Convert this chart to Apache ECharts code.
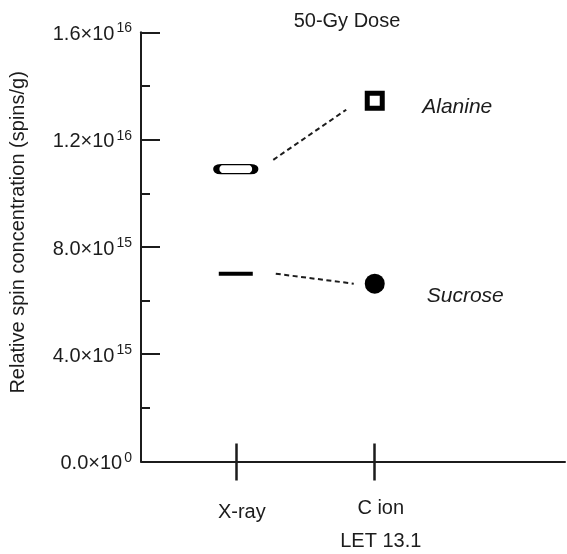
<!DOCTYPE html>
<html>
<head>
<meta charset="utf-8">
<script src="https://cdn.jsdelivr.net/npm/echarts@6/dist/echarts.min.js"></script>
<style>
  html, body { margin: 0; padding: 0; background: #ffffff; }
  #chart { width: 567px; height: 554px; }
</style>
</head>
<body>
<div id="chart"></div>
<script>
// Radiation types on the x axis and the spin concentration measured for each sample
const categories = ['X-ray', 'C ion'];
const categorySubtitles = ['', 'LET 13.1'];
const alanine = [1.09e16, 1.345e16];
const sucrose = [7.0e15, 6.63e15];

// Y-axis tick labels written as mantissa x 10^exponent
const yTickValues = [0, 4e15, 8e15, 1.2e16, 1.6e16];
const yTickMantissas = ['0.0', '4.0', '8.0', '1.2', '1.6'];
const yTickExponents = ['0', '15', '15', '16', '16'];

const titleText = '50-Gy Dose';
const yAxisTitle = 'Relative spin concentration (spins/g)';

const INK = '#1c1c1c';
const FONT = '"Liberation Sans", Arial, Helvetica, sans-serif';

// category i sits at x = i + 1 on a plain value axis
const catX = categories.map((_, i) => i + 1);
const X_MIN = 0.318, X_MAX = 3.369;

// pixel offsets that keep the dashed connectors clear of the markers
const connectorOffsets = [
  { from: [37.5, -9.3], to: [-28.5, 9] },
  { from: [40, 0], to: [-21, 0] }
];

// rounded "stadium" outline used for the alanine X-ray reading
const stadium = 'path://M5,0 L36,0 A5,5 0 0 1 36,10 L5,10 A5,5 0 0 1 5,0 Z';

const chart = echarts.init(document.getElementById('chart'), null, { renderer: 'canvas' });

function yLabel(value) {
  const i = yTickValues.findIndex(v => Math.abs(v - value) < 1e12);
  if (i < 0) return '';
  return '{m|' + yTickMantissas[i] + '\u00d710}{e|' + yTickExponents[i] + '}';
}

function xLabel(value) {
  const i = catX.indexOf(Math.round(value));
  if (i < 0) return '';
  return categorySubtitles[i]
    ? '{c|' + categories[i] + '}\n{l|' + categorySubtitles[i] + '}'
    : '{x|' + categories[i] + '}';
}

const nameLabel = (dist, off) => ({
  show: true,
  formatter: '{a}',
  position: 'right',
  distance: dist,
  offset: off,
  fontFamily: FONT,
  fontSize: 21,
  fontStyle: 'italic',
  color: INK,
  opacity: 1
});

const option = {
  backgroundColor: '#ffffff',
  animation: false,
  title: {
    text: titleText,
    left: 342,
    textAlign: 'center',
    top: 6,
    textStyle: { fontFamily: FONT, fontSize: 20, fontWeight: 'normal', color: INK }
  },
  grid: { left: 137, top: 32.3, width: 428, height: 429.2 },
  xAxis: [
    {
      type: 'value',
      position: 'bottom',
      min: X_MIN,
      max: X_MAX,
      axisLine: { show: true, onZero: false, lineStyle: { color: INK, width: 2 } },
      axisTick: { show: true, inside: false, length: 19, customValues: catX, lineStyle: { color: INK, width: 2.5 } },
      axisLabel: {
        show: true,
        customValues: catX,
        margin: 31,
        padding: [0, 0, 0, 12],
        formatter: xLabel,
        rich: {
          x: { fontFamily: FONT, fontSize: 20, color: INK, lineHeight: 40.7 },
          c: { fontFamily: FONT, fontSize: 20, color: INK, lineHeight: 32.7 },
          l: { fontFamily: FONT, fontSize: 20, color: INK, lineHeight: 32.7 }
        }
      },
      splitLine: { show: false }
    },
    {
      type: 'value',
      position: 'bottom',
      min: X_MIN,
      max: X_MAX,
      axisLine: { show: false },
      axisTick: { show: true, inside: true, length: 18, customValues: catX, lineStyle: { color: INK, width: 2.5 } },
      axisLabel: { show: false },
      splitLine: { show: false }
    }
  ],
  yAxis: {
    type: 'value',
    min: 0,
    max: 1.6e16,
    interval: 4e15,
    name: yAxisTitle,
    nameLocation: 'middle',
    nameRotate: 90,
    nameGap: 113,
    nameTextStyle: { fontFamily: FONT, fontSize: 20, color: INK, padding: [0, 0, 0, 29] },
    axisLine: { show: true, onZero: false, lineStyle: { color: INK, width: 2 } },
    axisTick: { show: true, inside: true, length: 19, lineStyle: { color: INK, width: 2 } },
    minorTick: { show: true, splitNumber: 2, length: 9, lineStyle: { color: INK, width: 2 } },
    axisLabel: {
      margin: 9,
      padding: [4.4, 0, 0, 0],
      formatter: yLabel,
      rich: {
        m: { fontFamily: FONT, fontSize: 20, color: INK, lineHeight: 26 },
        e: { fontFamily: FONT, fontSize: 14, color: INK, lineHeight: 13, verticalAlign: 'top', padding: [0, 0, 0, 2] }
      }
    },
    splitLine: { show: false }
  },
  series: [
    {
      name: 'connectors',
      type: 'custom',
      xAxisIndex: 0,
      encode: { x: [0, 2], y: [1, 3] },
      data: [
        [catX[0], alanine[0], catX[1], alanine[1]],
        [catX[0], sucrose[0], catX[1], sucrose[1]]
      ],
      renderItem: function (params, api) {
        const a = api.coord([api.value(0), api.value(1)]);
        const b = api.coord([api.value(2), api.value(3)]);
        const off = connectorOffsets[params.dataIndex];
        return {
          type: 'line',
          shape: {
            x1: a[0] + off.from[0], y1: a[1] + off.from[1],
            x2: b[0] + off.to[0], y2: b[1] + off.to[1]
          },
          style: { stroke: INK, lineWidth: 2, lineDash: [5, 3.5] }
        };
      },
      z: 1
    },
    {
      name: 'Alanine',
      type: 'scatter',
      xAxisIndex: 0,
      z: 3,
      itemStyle: { opacity: 1 },
      emphasis: { disabled: true },
      data: [
        {
          value: [catX[0], alanine[0]],
          symbol: stadium,
          symbolSize: [39, 9],
          itemStyle: { color: '#ffffff', borderColor: '#000000', borderWidth: 3, opacity: 1 }
        },
        {
          value: [catX[1], alanine[1]],
          symbol: 'rect',
          symbolSize: 15,
          itemStyle: { color: '#ffffff', borderColor: '#000000', borderWidth: 5, opacity: 1 },
          label: nameLabel(37.5, [0, 6])
        }
      ]
    },
    {
      name: 'Sucrose',
      type: 'scatter',
      xAxisIndex: 0,
      z: 3,
      itemStyle: { opacity: 1 },
      emphasis: { disabled: true },
      data: [
        {
          value: [catX[0], sucrose[0]],
          symbol: 'rect',
          symbolSize: [34, 4],
          itemStyle: { color: '#000000', opacity: 1 }
        },
        {
          value: [catX[1], sucrose[1]],
          symbol: 'circle',
          symbolSize: 20,
          itemStyle: { color: '#000000', opacity: 1 },
          label: nameLabel(42, [0, 12.7])
        }
      ]
    }
  ]
};

chart.setOption(option);
</script>
</body>
</html>
